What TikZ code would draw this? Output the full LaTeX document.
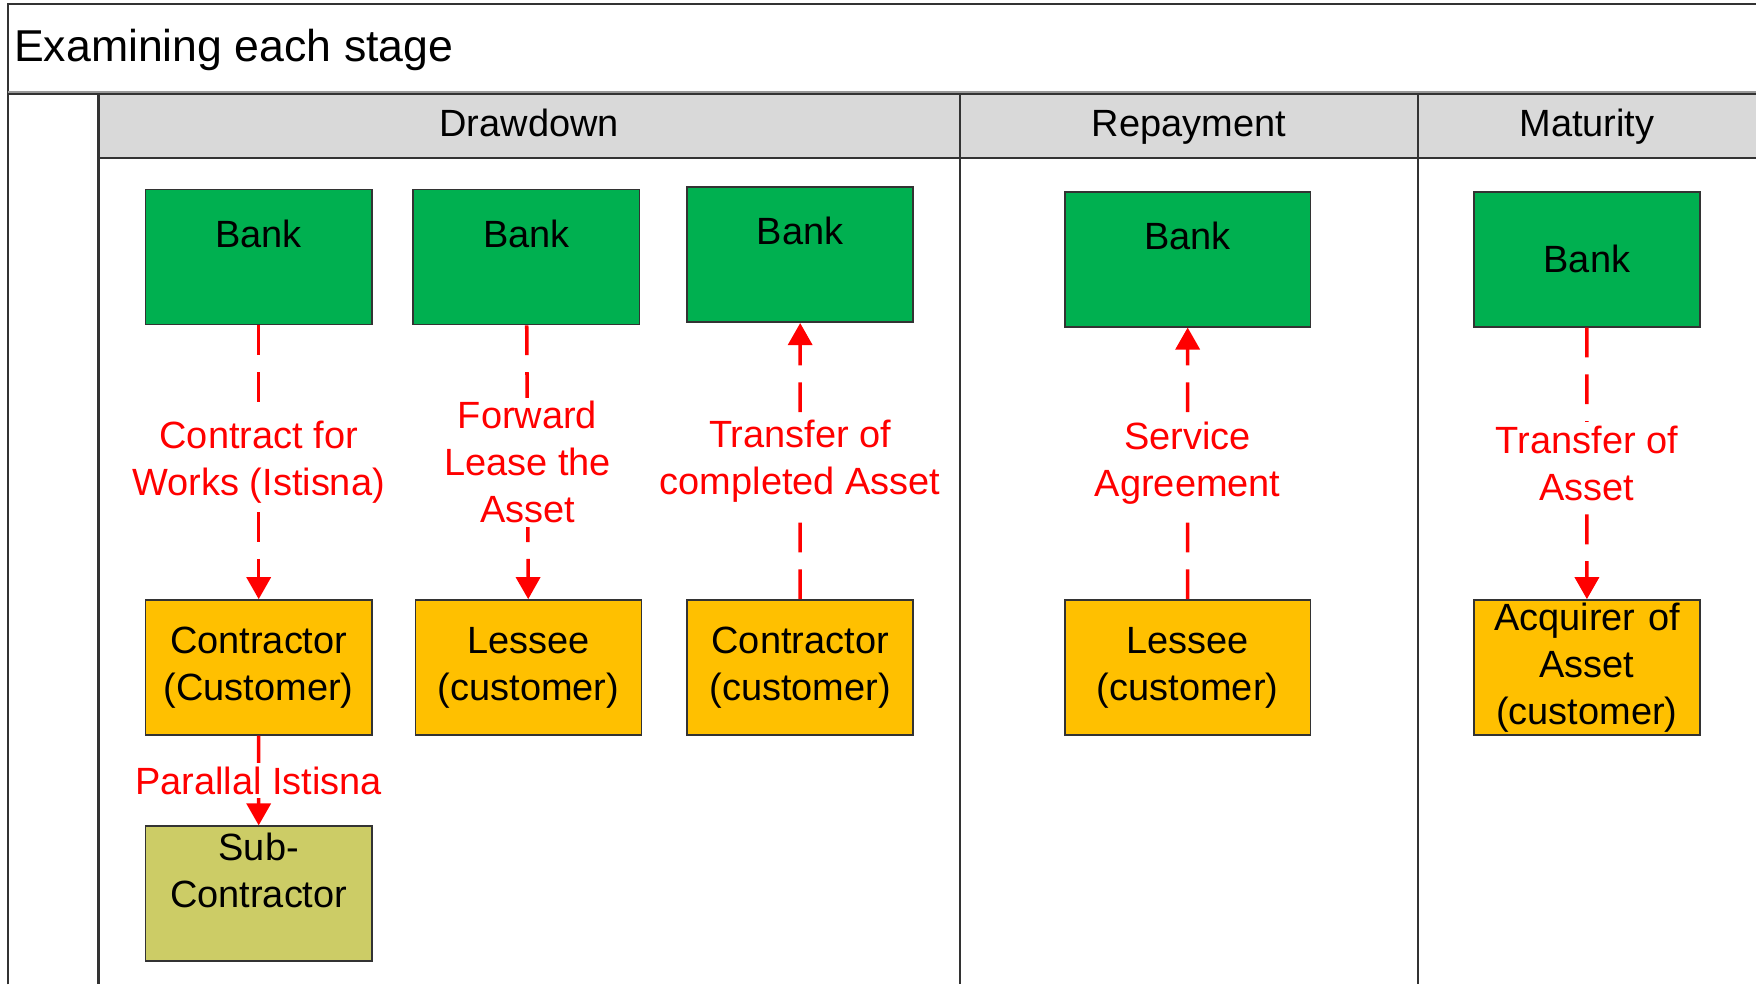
\documentclass[tikz,border=0pt]{standalone}
\usepackage{fontspec}
\setmainfont{Liberation Sans}
\usetikzlibrary{arrows.meta}
\definecolor{bankgreen}{RGB}{0,176,80}
\definecolor{custorange}{RGB}{255,192,0}
\definecolor{subolive}{RGB}{204,204,102}
\definecolor{headgray}{RGB}{217,217,217}

\begin{document}
\begin{tikzpicture}[scale=0.112,
            every node/.style={font=\fontsize{10.8}{13.4}\selectfont},
            party/.style={draw=black!80, line width=0.45pt, minimum width=2.262cm, minimum height=1.35cm, text width=2.2cm, align=center, inner sep=0pt},
            bankbox/.style={party, fill=bankgreen},
            custbox/.style={party, fill=custorange},
            subbox/.style={party, fill=subolive},
            stagehead/.style={anchor=base, inner sep=0pt},
            flow/.style={red, line width=1pt, dash pattern=on 8.5pt off 4.8pt, -{Triangle[length=0.22cm, width=0.24cm]}},
            flowlabel/.style={fill=white, text=red, align=center, inner sep=1pt}]
            \useasboundingbox (0,0) rectangle (156.8,-87.9);
            \clip (0,0) rectangle (156.8,-87.9);
            \draw [black!80, line width=0.6pt] (0.68,-87.9) -- (0.68,-0.33) -- (156.8,-0.33);
            \node [anchor=base west, inner sep=0pt, font=\fontsize{12.7}{15}\selectfont] (title) at (1.2,-5.5) {Examining each stage};
            \draw [black!40, line width=0.6pt] (0.68,-8.19) -- (156.8,-8.19);
            \fill [headgray] (8.8,-8.42) rectangle (156.8,-14.08);
            \draw [black!80, line width=0.6pt] (0.68,-8.42) -- (156.8,-8.42);
            \draw [black!80, line width=0.6pt] (8.8,-14.08) -- (156.8,-14.08);
            \draw [black!80, line width=0.6pt] (8.8,-8.42) -- (8.8,-87.9);
            \draw [black!80, line width=0.6pt] (85.7,-8.42) -- (85.7,-87.9);
            \draw [black!80, line width=0.6pt] (126.6,-8.42) -- (126.6,-87.9);
            \node [stagehead] (drawdown) at (47.25,-12.2) {Drawdown};
            \node [stagehead] (repayment) at (106.15,-12.2) {Repayment};
            \node [stagehead] (maturity) at (141.7,-12.2) {Maturity};

            \node [bankbox] (istBank) at (23.1,-22.95) {Bank\\\mbox{}};
            \node [custbox] (istContractor) at (23.1,-59.6) {Contractor\\(Customer)};
            \node [subbox] (subContractor) at (23.1,-79.8) {Sub-\\Contractor\\\mbox{}};
            \node [bankbox] (leaseBank) at (47.0,-22.95) {Bank\\\mbox{}};
            \node [custbox] (lessee) at (47.2,-59.6) {Lessee\\(customer)};
            \node [bankbox] (transBank) at (71.45,-22.75) {Bank\\\mbox{}};
            \node [custbox] (contractor) at (71.45,-59.6) {Contractor\\(customer)};
            \node [bankbox, minimum width=2.453cm] (serviceBank) at (106.05,-23.15) {Bank\\\mbox{}};
            \node [custbox, minimum width=2.453cm] (serviceLessee) at (106.05,-59.6) {Lessee\\(customer)};
            \node [bankbox] (matBank) at (141.7,-23.15) {Bank};
            \node [custbox] (acquirer) at (141.7,-59.6) {Acquirer of\\Asset\\(customer)};

            \draw [flow] (istBank) -- node [flowlabel] {Contract for\\Works (Istisna)} (istContractor);
            \draw [flow] (istContractor) -- node [flowlabel] {Parallal Istisna} (subContractor);
            \draw [flow] (leaseBank) -- node [flowlabel] {Forward\\Lease the\\Asset} (lessee);
            \draw [flow] (contractor) -- node [flowlabel] {Transfer of\\completed Asset} (transBank);
            \draw [flow] (serviceLessee) -- node [flowlabel] {Service\\Agreement} (serviceBank);
            \draw [flow] (matBank) -- node [flowlabel] {Transfer of\\Asset} (acquirer);
        \end{tikzpicture}
\end{document}
